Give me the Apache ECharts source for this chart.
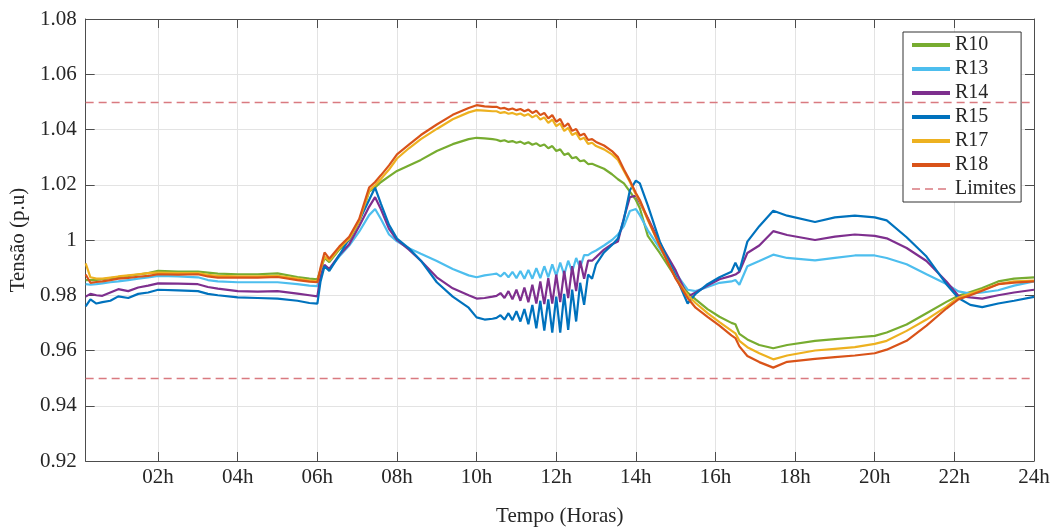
<!DOCTYPE html>
<html>
<head>
<meta charset="utf-8">
<script src="https://cdn.jsdelivr.net/npm/echarts@6/dist/echarts.min.js"></script>
<style>
html,body{margin:0;padding:0;background:#fff;}
#chart{width:1058px;height:532px;}
</style>
</head>
<body>
<div id="chart"></div>
<script>
// ---- data (hours of day, voltage in p.u.) ----
const hours = [
  0.18, 0.3, 0.45, 0.6, 0.8, 1.0, 1.25, 1.5, 1.75, 2.0, 2.5, 3.0, 3.25, 3.5, 4.0, 4.5, 5.0, 5.5, 5.8, 6.0,
  6.08, 6.18, 6.3, 6.55, 6.8, 7.05, 7.3, 7.45, 7.6, 7.8, 8.0, 8.3, 8.6, 9.0, 9.4, 9.8, 10.0, 10.2, 10.4,
  10.5, 10.6, 10.7, 10.8, 10.9, 11.0, 11.1, 11.2, 11.3, 11.4, 11.5, 11.6, 11.7, 11.8, 11.9, 12.0, 12.1, 12.2, 12.3, 12.4, 12.5, 12.6, 12.7, 12.8, 12.9,
  13.0, 13.2, 13.4, 13.55, 13.7, 13.85, 14.0, 14.1, 14.3, 14.6, 15.0, 15.3, 15.5, 15.8, 16.1, 16.4, 16.5, 16.6, 16.8,
  17.1, 17.45, 17.8, 18.5, 19.0, 19.5, 20.0, 20.3, 20.8, 21.3, 21.8, 22.1, 22.4, 22.7, 23.1, 23.5, 24.0
];
const r10 = [
  0.9855, 0.9855, 0.9856, 0.9858, 0.9862, 0.9865, 0.987, 0.9875, 0.988, 0.9888, 0.9886, 0.9886, 0.9882, 0.9878, 0.9876, 0.9876, 0.9879, 0.9866, 0.986, 0.9858,
  0.989, 0.9935, 0.992, 0.9965, 1.0, 1.0065, 1.0175, 1.019, 1.021, 1.023, 1.025, 1.027, 1.029, 1.0322, 1.0347, 1.0365, 1.037, 1.0368, 1.0365,
  1.0363, 1.0358, 1.0361, 1.0355, 1.0358, 1.0352, 1.0356, 1.0348, 1.0354, 1.0345, 1.035, 1.034, 1.0346, 1.0332, 1.034, 1.0322, 1.0328, 1.0308, 1.0314, 1.0296, 1.03, 1.0285, 1.0288, 1.0275, 1.0276,
  1.027, 1.0258, 1.0238, 1.022, 1.0205, 1.0175, 1.0145, 1.0115, 1.0015, 0.9953, 0.9865, 0.981, 0.9785, 0.975, 0.9722, 0.97, 0.9695, 0.966, 0.964,
  0.962, 0.9608, 0.962, 0.9635, 0.9641, 0.9647, 0.9653, 0.9665, 0.9694, 0.9735, 0.9776, 0.9798, 0.9812, 0.9826, 0.985, 0.986, 0.9865
];
const r13 = [
  0.984, 0.9838, 0.984, 0.9843, 0.9847, 0.985, 0.9855, 0.986, 0.9865, 0.987, 0.9868, 0.9865, 0.9855, 0.985, 0.9847, 0.9847, 0.9847, 0.984, 0.9835, 0.9833,
  0.988, 0.9905, 0.9895, 0.994, 0.998, 1.003, 1.009, 1.0112, 1.0075, 1.002, 0.9995, 0.997, 0.995, 0.9924, 0.9895, 0.9872, 0.9865, 0.9872, 0.9876,
  0.9878, 0.9868, 0.9882, 0.9865, 0.9885, 0.9862, 0.9888, 0.986, 0.9892, 0.986, 0.9898, 0.9862, 0.9905, 0.9865, 0.9912, 0.987, 0.9918, 0.9875, 0.9925, 0.9885, 0.9935, 0.99, 0.9945, 0.9945, 0.9955,
  0.9962, 0.998, 1.0, 1.002, 1.005, 1.0105, 1.0112, 1.009, 1.0035, 0.997, 0.988, 0.982, 0.9815, 0.983, 0.9845, 0.985, 0.9855, 0.9838, 0.9905,
  0.9924, 0.9947, 0.9935, 0.9926, 0.9935, 0.9944, 0.9944, 0.9935, 0.9912, 0.9876, 0.9841, 0.9814, 0.9806, 0.981, 0.9818, 0.9835, 0.985
];
const r14 = [
  0.9795, 0.9805, 0.98, 0.9798, 0.981, 0.9822, 0.9815, 0.9828, 0.9835, 0.9843, 0.9842, 0.984, 0.983, 0.9824, 0.9815, 0.9813, 0.9815, 0.9806, 0.98, 0.9796,
  0.987, 0.991, 0.9895, 0.9945, 0.9985, 1.005, 1.012, 1.0155, 1.011, 1.004, 1.0, 0.9965, 0.9925, 0.9865, 0.9825, 0.98, 0.9788, 0.979, 0.9795,
  0.9798, 0.9808, 0.979, 0.9815, 0.9785, 0.982, 0.978, 0.9828, 0.9775, 0.9838, 0.977, 0.985, 0.9768, 0.9862, 0.977, 0.9875, 0.9775, 0.9888, 0.979, 0.9905, 0.9815, 0.9925, 0.986, 0.9925, 0.9925,
  0.9938, 0.9965, 0.9985, 0.9995, 1.008, 1.0155, 1.016, 1.0135, 1.008, 0.999, 0.989, 0.9795, 0.981, 0.9835, 0.9858, 0.987, 0.9875, 0.9885, 0.9953,
  0.998, 1.0032, 1.0018, 1.0, 1.0012, 1.002, 1.0015, 1.0006, 0.9971, 0.9924, 0.985, 0.9798, 0.9792, 0.9788, 0.98, 0.981, 0.982
];
const r15 = [
  0.976, 0.9785, 0.977, 0.9775, 0.978, 0.9796, 0.979, 0.9805, 0.981, 0.982, 0.9818, 0.9815, 0.9805, 0.98, 0.9792, 0.979, 0.9788, 0.978, 0.9772, 0.977,
  0.985, 0.9905, 0.9888, 0.9945, 1.0005, 1.007, 1.0145, 1.019, 1.013, 1.0055, 1.0005, 0.997, 0.9925, 0.9847, 0.9795, 0.9755, 0.972, 0.9712, 0.9715,
  0.9718, 0.9728, 0.9712, 0.9735, 0.971, 0.9742, 0.9705, 0.975, 0.9695, 0.9765, 0.968, 0.978, 0.9672, 0.9785, 0.9665, 0.9795, 0.9665, 0.9805, 0.9675, 0.982, 0.9705, 0.9845, 0.9765, 0.9875, 0.986,
  0.9912, 0.9955, 0.9982, 1.0005, 1.0075, 1.018, 1.0215, 1.0205, 1.0125, 0.9995, 0.987, 0.977, 0.9805, 0.984, 0.9865, 0.9885, 0.9918, 0.9888, 0.9994,
  1.005, 1.0106, 1.0088, 1.0065, 1.0082, 1.0088, 1.0082, 1.0071, 1.001, 0.994, 0.984, 0.979, 0.9765, 0.9757, 0.977, 0.978, 0.9794
];
const r17 = [
  0.9915, 0.9865, 0.986, 0.986, 0.9864, 0.9868, 0.9872, 0.9876, 0.988, 0.9882, 0.988, 0.988, 0.9874, 0.987, 0.9868, 0.9868, 0.987, 0.986, 0.9853, 0.985,
  0.9895, 0.994, 0.9925, 0.997, 1.0005, 1.0068, 1.0178, 1.0198, 1.0222, 1.0255, 1.0295, 1.0332, 1.0365, 1.0402, 1.0437, 1.0462, 1.047, 1.0468, 1.0466,
  1.0466, 1.046, 1.0463, 1.0457, 1.046, 1.0454, 1.0458, 1.045, 1.0456, 1.0444, 1.0452, 1.0436, 1.0444, 1.0424, 1.0436, 1.0412, 1.0422, 1.0395, 1.0406, 1.038, 1.0388, 1.0364, 1.037, 1.0348, 1.0352,
  1.034, 1.0328, 1.031, 1.029, 1.025, 1.021, 1.0165, 1.014, 1.0072, 0.9978, 0.9862, 0.98, 0.9772, 0.9735, 0.9703, 0.9672, 0.9662, 0.9635, 0.9612,
  0.959, 0.9568, 0.9582, 0.96, 0.9606, 0.9612, 0.9624, 0.9635, 0.9671, 0.9712, 0.9759, 0.9792, 0.9806, 0.982, 0.984, 0.985, 0.9853
];
const r18 = [
  0.9875, 0.9845, 0.9848, 0.985, 0.9855, 0.986, 0.9863, 0.9867, 0.987, 0.9876, 0.9875, 0.9876, 0.9868, 0.9864, 0.9864, 0.9864, 0.9866, 0.9855, 0.9849, 0.9847,
  0.99, 0.9955, 0.9932, 0.9976, 1.0012, 1.0076, 1.019, 1.021, 1.0235, 1.027, 1.031, 1.0345, 1.038, 1.0418, 1.0453, 1.0478, 1.0488, 1.0484, 1.0482,
  1.0482, 1.0476, 1.0478, 1.0472, 1.0476, 1.047, 1.0474, 1.0466, 1.0472, 1.046, 1.0468, 1.0452, 1.046, 1.044, 1.0452, 1.0428, 1.0438, 1.041, 1.0422, 1.0395, 1.0402, 1.0378, 1.0385, 1.0362, 1.0365,
  1.0355, 1.0342, 1.0322, 1.03, 1.0255, 1.0215, 1.017, 1.0145, 1.0076, 0.998, 0.986, 0.979, 0.9755, 0.9722, 0.969, 0.9655, 0.9645, 0.9615, 0.958,
  0.9558, 0.9538, 0.9559, 0.957, 0.9576, 0.9582, 0.959, 0.9603, 0.9635, 0.969, 0.9752, 0.9785, 0.98, 0.9816, 0.984, 0.9846, 0.985
];
const limits = [1.05, 0.95];
const seriesNames = ['R10', 'R13', 'R14', 'R15', 'R17', 'R18'];
const seriesValues = [r10, r13, r14, r15, r17, r18];
const seriesColors = ['#77AC30', '#4DBEEE', '#7E2F8E', '#0072BD', '#EDB120', '#D95319'];
const xTicks = [2, 4, 6, 8, 10, 12, 14, 16, 18, 20, 22, 24];
const xMin = 0.18, xMax = 24;
const yMin = 0.92, yMax = 1.08, yStep = 0.02;

const FONT = 'Liberation Serif';
const TXT = '#262626';
const AX = '#4d4d4d';
const LIM = '#d97a80';

const chart = echarts.init(document.getElementById('chart'), null, {renderer: 'canvas'});

const lineSeries = seriesNames.map((name, k) => ({
  name: name,
  type: 'line',
  xAxisIndex: 0,
  yAxisIndex: 0,
  showSymbol: false,
  symbol: 'none',
  color: seriesColors[k],
  lineStyle: {width: 2.2, color: seriesColors[k]},
  data: hours.map((h, i) => [h, seriesValues[k][i]]),
  z: 3 + k
}));

lineSeries.push({
  name: 'Limites',
  type: 'line',
  xAxisIndex: 0,
  yAxisIndex: 0,
  symbol: 'none',
  color: LIM,
  lineStyle: {width: 1.3, type: [8, 5], color: LIM},
  data: [],
  markLine: {
    silent: true,
    symbol: 'none',
    label: {show: false},
    lineStyle: {width: 1.3, type: [8, 5], color: LIM},
    data: limits.map(v => ({yAxis: v}))
  },
  z: 2
});

const fmtH = v => (v < 10 ? '0' : '') + Math.round(v) + 'h';

const option = {
  animation: false,
  backgroundColor: '#ffffff',
  grid: {left: 82, right: 24, top: 19, bottom: 69, containLabel: false},
  legend: {
    orient: 'vertical',
    left: 903,
    top: 32,
    itemWidth: 38,
    itemHeight: 20,
    itemGap: 4,
    padding: [3, 5, 3, 7],
    backgroundColor: '#ffffff',
    borderColor: '#333333',
    borderWidth: 1,
    borderRadius: 0,
    textStyle: {fontFamily: FONT, fontSize: 20, color: TXT},
    itemStyle: {opacity: 0, borderWidth: 0},
    lineStyle: {width: 4},
    data: seriesNames.map(n => ({name: n})).concat([{name: 'Limites', lineStyle: {width: 1.5}}])
  },
  xAxis: [{
    type: 'value',
    min: xMin,
    max: xMax,
    position: 'bottom',
    name: 'Tempo (Horas)',
    nameLocation: 'middle',
    nameGap: 45,
    nameTextStyle: {fontFamily: FONT, fontSize: 21, color: TXT},
    axisLine: {show: true, onZero: false, lineStyle: {color: AX, width: 1}},
    axisTick: {show: true, inside: true, length: 9, customValues: xTicks, lineStyle: {color: AX}},
    axisLabel: {show: true, customValues: xTicks, formatter: fmtH, fontFamily: FONT, fontSize: 21, color: TXT, margin: 6},
    splitLine: {show: true, lineStyle: {color: '#e3e3e3', width: 1}}
  }, {
    type: 'value',
    min: xMin,
    max: xMax,
    position: 'top',
    axisLine: {show: true, onZero: false, lineStyle: {color: AX, width: 1}},
    axisTick: {show: true, inside: true, length: 9, customValues: xTicks, lineStyle: {color: AX}},
    axisLabel: {show: false},
    splitLine: {show: false}
  }],
  yAxis: [{
    type: 'value',
    min: yMin,
    max: yMax,
    interval: yStep,
    position: 'left',
    name: 'Tensão (p.u)',
    nameLocation: 'middle',
    nameGap: 46,
    nameTextStyle: {fontFamily: FONT, fontSize: 21, color: TXT},
    axisLine: {show: true, onZero: false, lineStyle: {color: AX, width: 1}},
    axisTick: {show: true, inside: true, length: 9, lineStyle: {color: AX}},
    axisLabel: {show: true, fontFamily: FONT, fontSize: 21, color: TXT, margin: 9,
      formatter: v => String(parseFloat(v.toFixed(2)))},
    splitLine: {show: true, lineStyle: {color: '#e3e3e3', width: 1}}
  }, {
    type: 'value',
    min: yMin,
    max: yMax,
    interval: yStep,
    position: 'right',
    axisLine: {show: true, onZero: false, lineStyle: {color: AX, width: 1}},
    axisTick: {show: true, inside: true, length: 9, lineStyle: {color: AX}},
    axisLabel: {show: false},
    splitLine: {show: false}
  }],
  series: lineSeries
};

chart.setOption(option);
</script>
</body>
</html>
